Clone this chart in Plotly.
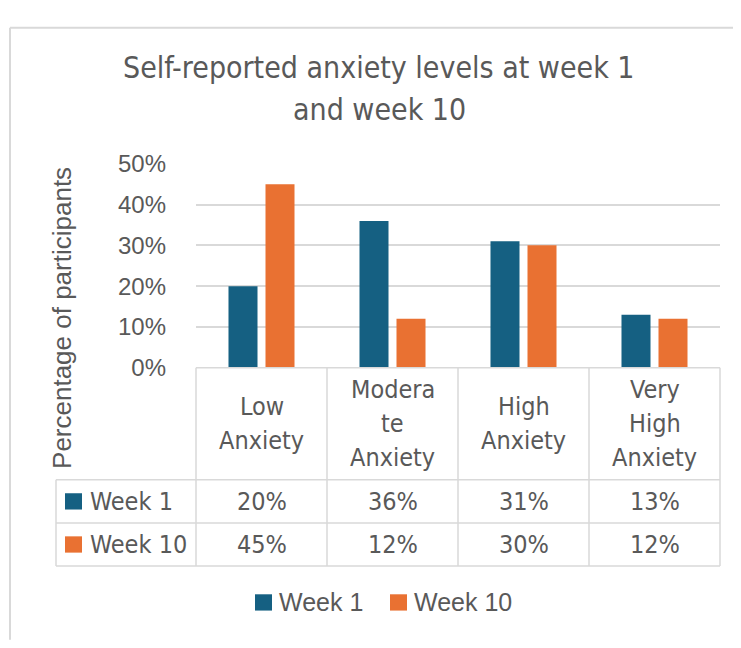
import plotly.graph_objects as go

# ---- data ----
categories = ["Low Anxiety", "Moderate Anxiety", "High Anxiety", "Very High Anxiety"]
category_labels = ["Low<br>Anxiety", "Modera<br>te<br>Anxiety", "High<br>Anxiety", "Very<br>High<br>Anxiety"]
series_names = ["Week 1", "Week 10"]
week1 = [20, 36, 31, 13]
week10 = [45, 12, 30, 12]
y_ticks = [0, 10, 20, 30, 40, 50]
y_tick_labels = ["0%", "10%", "20%", "30%", "40%", "50%"]
title_lines = ["Self-reported anxiety levels at week 1", "and week 10"]
y_title = "Percentage of participants"

# ---- styling ----
WIN_W, WIN_H = 741, 648
OFF = 8  # default page body margin
W, H = WIN_W - OFF, WIN_H - OFF
BLUE = "#156082"
ORANGE = "#E97132"
TEXT = "#595959"
LINE = "#D9D9D9"
LW = 1.5
NARROW = "DejaVu Sans Condensed, Liberation Sans Narrow, Liberation Sans, sans-serif"
REG = "Liberation Sans, Arial, sans-serif"


def fx(px):
    return (px - OFF) / W


def fy(py):
    return 1 - (py - OFF) / H


PLOT_L, PLOT_R, PLOT_T, PLOT_B = 196, 720, 156, 369
COL_X = [196, 327, 458, 589, 720]
ROW_Y = [486, 531, 576]
TABLE_L = 56

fig = go.Figure()
fig.add_trace(go.Bar(x=categories, y=week1, name=series_names[0],
                     marker=dict(color=BLUE, line=dict(width=0)), showlegend=False))
fig.add_trace(go.Bar(x=categories, y=week10, name=series_names[1],
                     marker=dict(color=ORANGE, line=dict(width=0)), showlegend=False))

shapes = []


def hline(y, x0, x1, w=LW):
    shapes.append(dict(type="line", xref="paper", yref="paper", x0=fx(x0), x1=fx(x1),
                       y0=fy(y), y1=fy(y), line=dict(color=LINE, width=w)))


def vline(x, y0, y1, w=LW):
    shapes.append(dict(type="line", xref="paper", yref="paper", x0=fx(x), x1=fx(x),
                       y0=fy(y0), y1=fy(y1), line=dict(color=LINE, width=w)))


def rect(x0, y0, x1, y1, color):
    shapes.append(dict(type="rect", xref="paper", yref="paper", x0=fx(x0), x1=fx(x1),
                       y0=fy(y0), y1=fy(y1), line=dict(width=0), fillcolor=color))


# outer chart border (top and left visible)
hline(14, 10, WIN_W + 5, w=2)
vline(10, 14, WIN_H + 5, w=2)

# table grid
hline(PLOT_B, PLOT_L, PLOT_R)
for y in ROW_Y:
    hline(y, TABLE_L, PLOT_R)
for x in COL_X:
    vline(x, PLOT_B, ROW_Y[-1])
vline(TABLE_L, ROW_Y[0], ROW_Y[-1])

annotations = []


def text(t, x, y, size, family, xanchor="center", angle=0):
    annotations.append(dict(text=t, x=fx(x), y=fy(y), xref="paper", yref="paper",
                            xanchor=xanchor, yanchor="middle", showarrow=False,
                            textangle=angle, font=dict(family=family, size=size, color=TEXT)))


# title
for line_txt, yy in zip(title_lines, [56, 99]):
    text(line_txt, 379, yy, 30, NARROW)

# y-axis title
text(y_title, 62, 317, 26, REG, angle=-90)

# table header (category labels)
LINE_STEP = 35.5
for i, lab in enumerate(category_labels):
    parts = lab.split("<br>")
    xc = (COL_X[i] + COL_X[i + 1]) / 2
    y0 = 427 - LINE_STEP * (len(parts) - 1) / 2
    for k, p in enumerate(parts):
        text(p, xc, y0 + k * LINE_STEP, 25, NARROW)

# table rows
row_centers = [(ROW_Y[0] + ROW_Y[1]) / 2, (ROW_Y[1] + ROW_Y[2]) / 2]
for r, (name, vals, col) in enumerate(zip(series_names, [week1, week10], [BLUE, ORANGE])):
    yc = row_centers[r]
    rect(65, yc - 8.5, 82, yc + 8.5, col)
    text(name, 88, yc, 25, NARROW, xanchor="left")
    for i, v in enumerate(vals):
        text(f"{v}%", (COL_X[i] + COL_X[i + 1]) / 2, yc, 25, NARROW)

# legend
leg_y = 614
for x_sq, name, col in [(255, series_names[0], BLUE), (390, series_names[1], ORANGE)]:
    rect(x_sq, leg_y - 8.5, x_sq + 17, leg_y + 8.5, col)
    text(name, x_sq + 22, leg_y, 25, REG, xanchor="left")

fig.update_layout(
    width=W, height=H, autosize=False,
    margin=dict(l=0, r=0, t=0, b=0),
    paper_bgcolor="white", plot_bgcolor="white",
    barmode="group", bargap=0.435, bargroupgap=0.216,
    showlegend=False,
    shapes=shapes, annotations=annotations,
    xaxis=dict(domain=[fx(PLOT_L), fx(PLOT_R)], range=[-0.5, 3.5], showticklabels=False,
               showgrid=False, zeroline=False, showline=False, ticks=""),
    yaxis=dict(domain=[fy(PLOT_B), fy(PLOT_T)], range=[0, 50], tickmode="array",
               tickvals=y_ticks, ticktext=y_tick_labels,
               showgrid=True, gridcolor=LINE, gridwidth=LW,
               zeroline=False, showline=False, ticks="", ticklabelstandoff=29,
               tickfont=dict(family=REG, size=24, color=TEXT)),
)

fig.write_html("out.html")
